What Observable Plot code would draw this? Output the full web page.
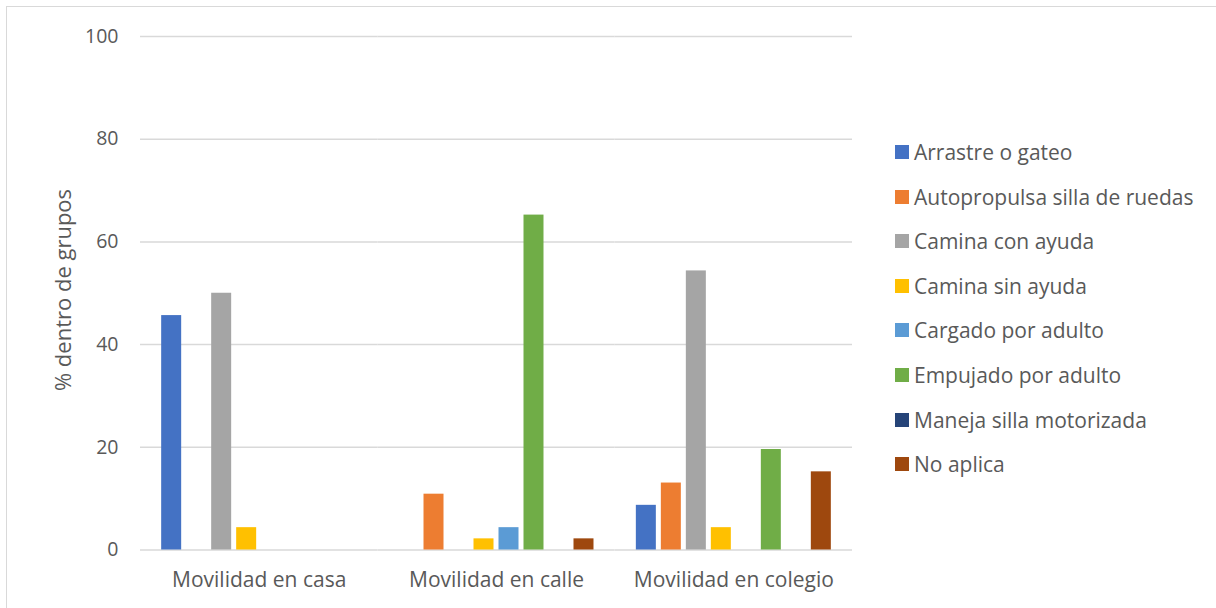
<!DOCTYPE html>
<html>
<head>
<meta charset="utf-8">
<script src="https://cdn.jsdelivr.net/npm/d3@7"></script>
<script src="https://cdn.jsdelivr.net/npm/@observablehq/plot@0.6"></script>
<style>
  html, body { margin: 0; padding: 0; background: #fff; }
  body { width: 1216px; height: 608px; overflow: hidden; position: relative; font-family: "Open Sans", sans-serif; color: #595959; }
  #frame { position: absolute; left: 6px; top: 6px; width: 1300px; height: 700px; border: 1.5px solid #d9d9d9; box-sizing: border-box; }
  #chart { position: absolute; left: 0; top: 0; }
  #ytitle { position: absolute; left: 62px; top: 290px; transform: translate(-50%, -50%) rotate(-90deg); white-space: nowrap; font-size: 22px; color: #595959; }
  #legend { position: absolute; left: 895px; top: 0; }
  .item { position: absolute; left: 0; white-space: nowrap; font-size: 21px; line-height: 24px; height: 24px; display: flex; align-items: center; }
  .sw { width: 14px; height: 14px; margin-right: 5px; flex: none; }
</style>
</head>
<body>
<div id="frame"></div>
<div id="chart"></div>
<div id="ytitle">% dentro de grupos</div>
<div id="legend"></div>
<script>
// Categories (groups along the x axis)
const groups = ["Movilidad en casa", "Movilidad en calle", "Movilidad en colegio"];

// Series names and their colours
const series = [
  "Arrastre o gateo",
  "Autopropulsa silla de ruedas",
  "Camina con ayuda",
  "Camina sin ayuda",
  "Cargado por adulto",
  "Empujado por adulto",
  "Maneja silla motorizada",
  "No aplica"
];
const colors = ["#4472C4", "#ED7D31", "#A5A5A5", "#FFC000", "#5B9BD5", "#70AD47", "#264478", "#9E480E"];

// Values per series, in the order of `groups` (% dentro de grupos)
const arrastre     = [45.65, 0, 8.70];
const autopropulsa = [0, 10.87, 13.04];
const caminaCon    = [50.00, 0, 54.35];
const caminaSin    = [4.35, 2.17, 4.35];
const cargado      = [0, 4.35, 0];
const empujado     = [0, 65.22, 19.57];
const maneja       = [0, 0, 0];
const noAplica     = [0, 2.17, 15.22];

// Y axis ticks
const yTicks = [0, 20, 40, 60, 80, 100];

const seriesValues = [arrastre, autopropulsa, caminaCon, caminaSin, cargado, empujado, maneja, noAplica];
const rows = [];
groups.forEach((g, gi) => {
  series.forEach((s, si) => {
    rows.push({group: g, series: s, value: seriesValues[si][gi]});
  });
});

const chart = Plot.plot({
  width: 860,
  height: 608,
  marginLeft: 140,
  marginRight: 8,
  marginTop: 36,
  marginBottom: 58.5,
  style: {fontFamily: "'Open Sans', sans-serif", fontSize: "20px", color: "#595959", background: "transparent", overflow: "visible"},
  fx: {domain: groups, padding: 0, round: false, label: null},
  x: {domain: series, paddingInner: 0.2, paddingOuter: 0.847, round: false, axis: null},
  y: {domain: [0, 100], label: null},
  color: {domain: series, range: colors},
  marks: [
    Plot.ruleY(yTicks, {stroke: "#d9d9d9", strokeWidth: 1.5}),
    Plot.barY(rows, {fx: "group", x: "series", y: "value", fill: "series"}),
    Plot.axisY({ticks: yTicks, tickSize: 0, tickPadding: 22, label: null, fontSize: 19.5, fill: "#595959"}),
    Plot.axisFx({anchor: "bottom", tickSize: 0, tickPadding: 22, label: null, fontSize: 21, fill: "#595959"})
  ]
});
document.getElementById("chart").appendChild(chart);

// Legend
const legend = document.getElementById("legend");
series.forEach((s, i) => {
  const item = document.createElement("div");
  item.className = "item";
  item.style.top = (152 + 44.6 * i - 12) + "px";
  const sw = document.createElement("span");
  sw.className = "sw";
  sw.style.background = colors[i];
  const label = document.createElement("span");
  label.textContent = s;
  item.appendChild(sw);
  item.appendChild(label);
  legend.appendChild(item);
});
</script>
</body>
</html>
